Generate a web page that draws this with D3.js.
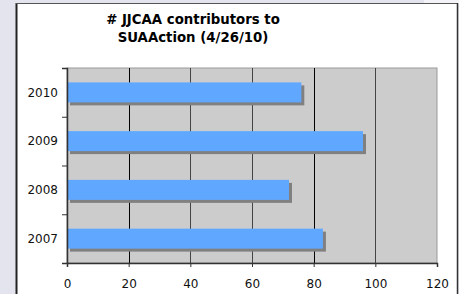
<!DOCTYPE html>
<html><head><meta charset="utf-8">
<script src="https://cdn.jsdelivr.net/npm/d3@7"></script>
<style>
html,body{margin:0;padding:0;background:#fff;}
svg{display:block;}
</style></head>
<body>
<svg id="chart" width="459" height="294"></svg>
<script>
const categories = ["2007", "2008", "2009", "2010"];
const values = [83, 72, 96, 76];
const xTicks = [0, 20, 40, 60, 80, 100, 120];
const titleLines = ["# JJCAA contributors to", "SUAAction (4/26/10)"];

const svg = d3.select("#chart");
const W = 459, H = 294;
const font = "'DejaVu Sans', Verdana, sans-serif";

// page background strips
svg.append("rect").attr("x",0).attr("y",0).attr("width",W).attr("height",H).attr("fill","#e4e4ee");
svg.append("rect").attr("x",424).attr("y",0).attr("width",35).attr("height",4).attr("fill","#f4f4f8");
// white panel
svg.append("rect").attr("x",16).attr("y",3).attr("width",441).attr("height",H).attr("fill","#fff");
svg.append("line").attr("x1",16.5).attr("y1",3).attr("x2",16.5).attr("y2",H).attr("stroke","#222").attr("stroke-width",2);
svg.append("line").attr("x1",16).attr("y1",3.5).attr("x2",458).attr("y2",3.5).attr("stroke","#555").attr("stroke-width",1.2);
svg.append("line").attr("x1",457.5).attr("y1",3).attr("x2",457.5).attr("y2",H).attr("stroke","#333").attr("stroke-width",1.5);

const m = {left:67, right:437, top:68, bottom:263};
const x = d3.scaleLinear().domain([0,120]).range([m.left, m.right]);
const y = d3.scaleBand().domain(categories.slice().reverse()).range([m.top, m.bottom]).paddingInner(0.59).paddingOuter(0.295);

// plot area
svg.append("rect").attr("x",m.left).attr("y",m.top).attr("width",m.right-m.left).attr("height",m.bottom-m.top)
  .attr("fill","#cccccc").attr("stroke","#999").attr("stroke-width",1);

// gridlines
const gridColors = {20:"#000",40:"#444",60:"#444",80:"#000",100:"#444"};
svg.append("g").selectAll("line").data(xTicks.filter(t=>t>0 && t<120)).join("line")
  .attr("x1",d=>Math.round(x(d))+0.5).attr("x2",d=>Math.round(x(d))+0.5)
  .attr("y1",m.top).attr("y2",m.bottom).attr("stroke",d=>gridColors[d]).attr("stroke-width",1);

// bars with shadow
const bars = svg.append("g");
categories.forEach((c,i)=>{
  bars.append("rect").attr("x",x(0)+3).attr("y",y(c)+3).attr("width",x(values[i])-x(0)).attr("height",y.bandwidth()).attr("fill","#808080");
  bars.append("rect").attr("x",x(0)).attr("y",y(c)).attr("width",x(values[i])-x(0)).attr("height",y.bandwidth()).attr("fill","#60a8ff");
});

// x axis
const xAxis = d3.axisBottom(x).tickValues(xTicks).tickSize(4).tickPadding(12);
const gx = svg.append("g").attr("transform",`translate(0,${m.bottom})`).call(xAxis);
gx.select(".domain").attr("stroke","#333").attr("stroke-width",1.5);
gx.selectAll(".tick line").attr("stroke","#333");
gx.selectAll("text").attr("font-family",font).attr("font-size",12).attr("fill","#111");

// y axis
const yb = d3.scaleLinear().domain([0,4]).range([m.bottom, m.top]);
const yAxisTicks = d3.axisLeft(yb).tickValues([0,1,2,3,4]).tickSize(5).tickFormat("");
const gy = svg.append("g").attr("transform",`translate(${m.left},0)`).call(yAxisTicks);
gy.select(".domain").attr("stroke","#333").attr("stroke-width",1.5);
gy.selectAll(".tick line").attr("stroke","#333");
svg.append("g").selectAll("text").data(categories).join("text")
  .attr("x",m.left-9).attr("y",d=>y(d)+y.bandwidth()/2).attr("dy","0.36em")
  .attr("text-anchor","end").attr("font-family",font).attr("font-size",12).attr("fill","#111").text(d=>d);

// title
svg.append("g").selectAll("text").data(titleLines).join("text")
  .attr("x",193).attr("y",(d,i)=>23.5+i*18).attr("text-anchor","middle")
  .attr("font-family",font).attr("font-weight","bold").attr("font-size",13.3).attr("fill","#000").text(d=>d);
</script>
</body></html>
